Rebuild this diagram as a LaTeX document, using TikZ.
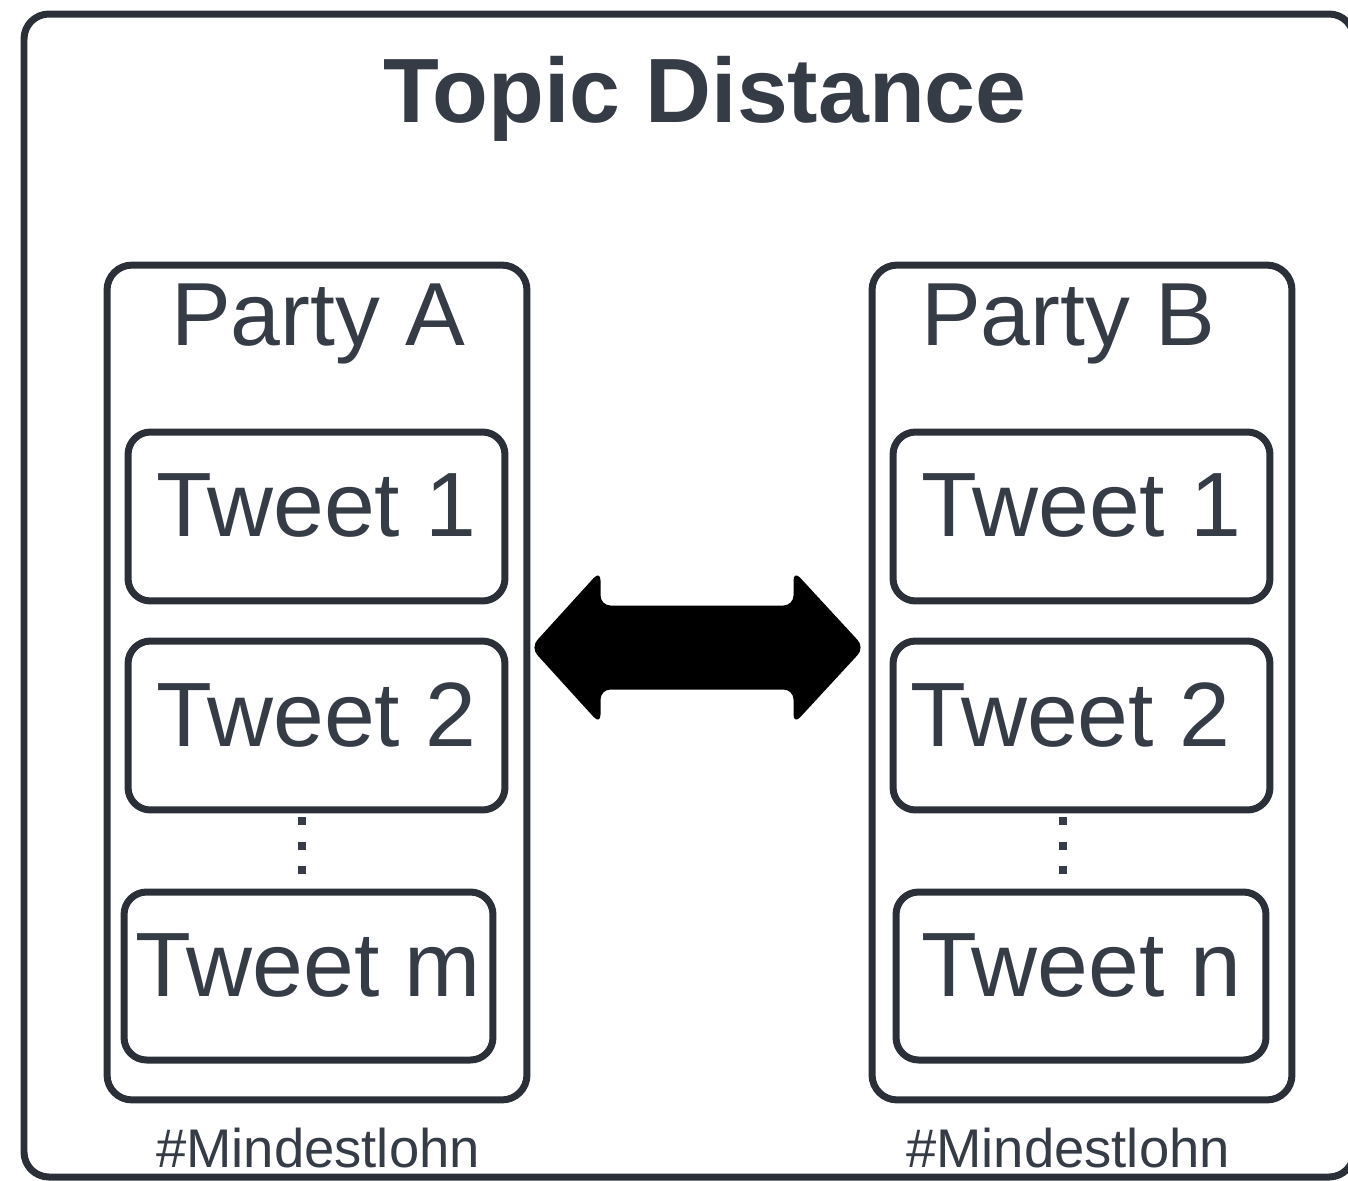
\documentclass[tikz,border=0pt]{standalone}
\usepackage{fontspec}
\setmainfont{Liberation Sans}
\usepackage{tikz}
\usetikzlibrary{positioning, calc}
\definecolor{inkgray}{RGB}{43,48,56}
\definecolor{txtgray}{RGB}{54,60,70}

\begin{document}
\begin{tikzpicture}[x=0.02cm, y=-0.02cm,
    frame/.style={draw=inkgray, line width=0.14cm, rounded corners=0.5cm},
    partybox/.style={frame, minimum width=8.4cm, minimum height=16.7cm, inner sep=0pt},
    tweetbox/.style={frame, rounded corners=0.45cm, minimum width=7.54cm, minimum height=3.38cm,
      inner sep=0pt, text depth=0.44cm, text=txtgray, font=\fontsize{52}{52}\selectfont},
    partylbl/.style={anchor=base, text=txtgray, inner sep=0pt, font=\fontsize{51}{51}\selectfont},
    taglbl/.style={anchor=base, text=txtgray, inner sep=0pt, font=\fontsize{31}{31}\selectfont}]
  \useasboundingbox (0,0) rectangle (1348,1180);
  \draw[frame] (24,14) rectangle (1354,1177);
  \node[anchor=base, text=txtgray, font=\fontsize{52}{52}\selectfont\bfseries] (title) at (705,122) {Topic Distance};

  % party A
  \node[partybox] (pA) at (317,682.5) {};
  \node[partylbl] (pAlbl) at (318,345) {Party A};
  \node[tweetbox] (a1) at (316.5,516.5) {Tweet 1};
  \node[tweetbox] (a2) at (316.5,725.5) {Tweet 2};
  \node[tweetbox, minimum width=7.38cm, minimum height=3.36cm] (am) at (308.5,976) {Tweet m};
  \node[taglbl] (tagA) at (318,1167) {\#Mindestlohn};

  % party B
  \node[partybox] (pB) at (1082,682.5) {};
  \node[partylbl] (pBlbl) at (1068,345) {Party B};
  \node[tweetbox] (b1) at (1081.5,516.5) {Tweet 1};
  \node[tweetbox] (b2) at (1081.5,725.5) {\hspace*{-0.45cm}Tweet 2};
  \node[tweetbox, minimum width=7.4cm, minimum height=3.36cm] (bn) at (1081,976) {Tweet n};
  \node[taglbl] (tagB) at (1068,1167) {\#Mindestlohn};

  \foreach \xx in {302,1063}
    \foreach \yy in {821,846,870}
      \fill[txtgray] (\xx-4,\yy-4) rectangle (\xx+4,\yy+4);

  \coordinate (arw) at ($(pA.east)!0.5!(pB.west)+(-3,-35)$);
  \fill[black, rounded corners=0.2cm] ($(arw)+(-166,0)$) -- ++(70,-77) -- ++(0,35) -- ++(193,0)
    -- ++(0,-35) -- ++(71,77) -- ++(-71,77) -- ++(0,-35) -- ++(-193,0) -- ++(0,35) -- cycle;
\end{tikzpicture}
\end{document}
